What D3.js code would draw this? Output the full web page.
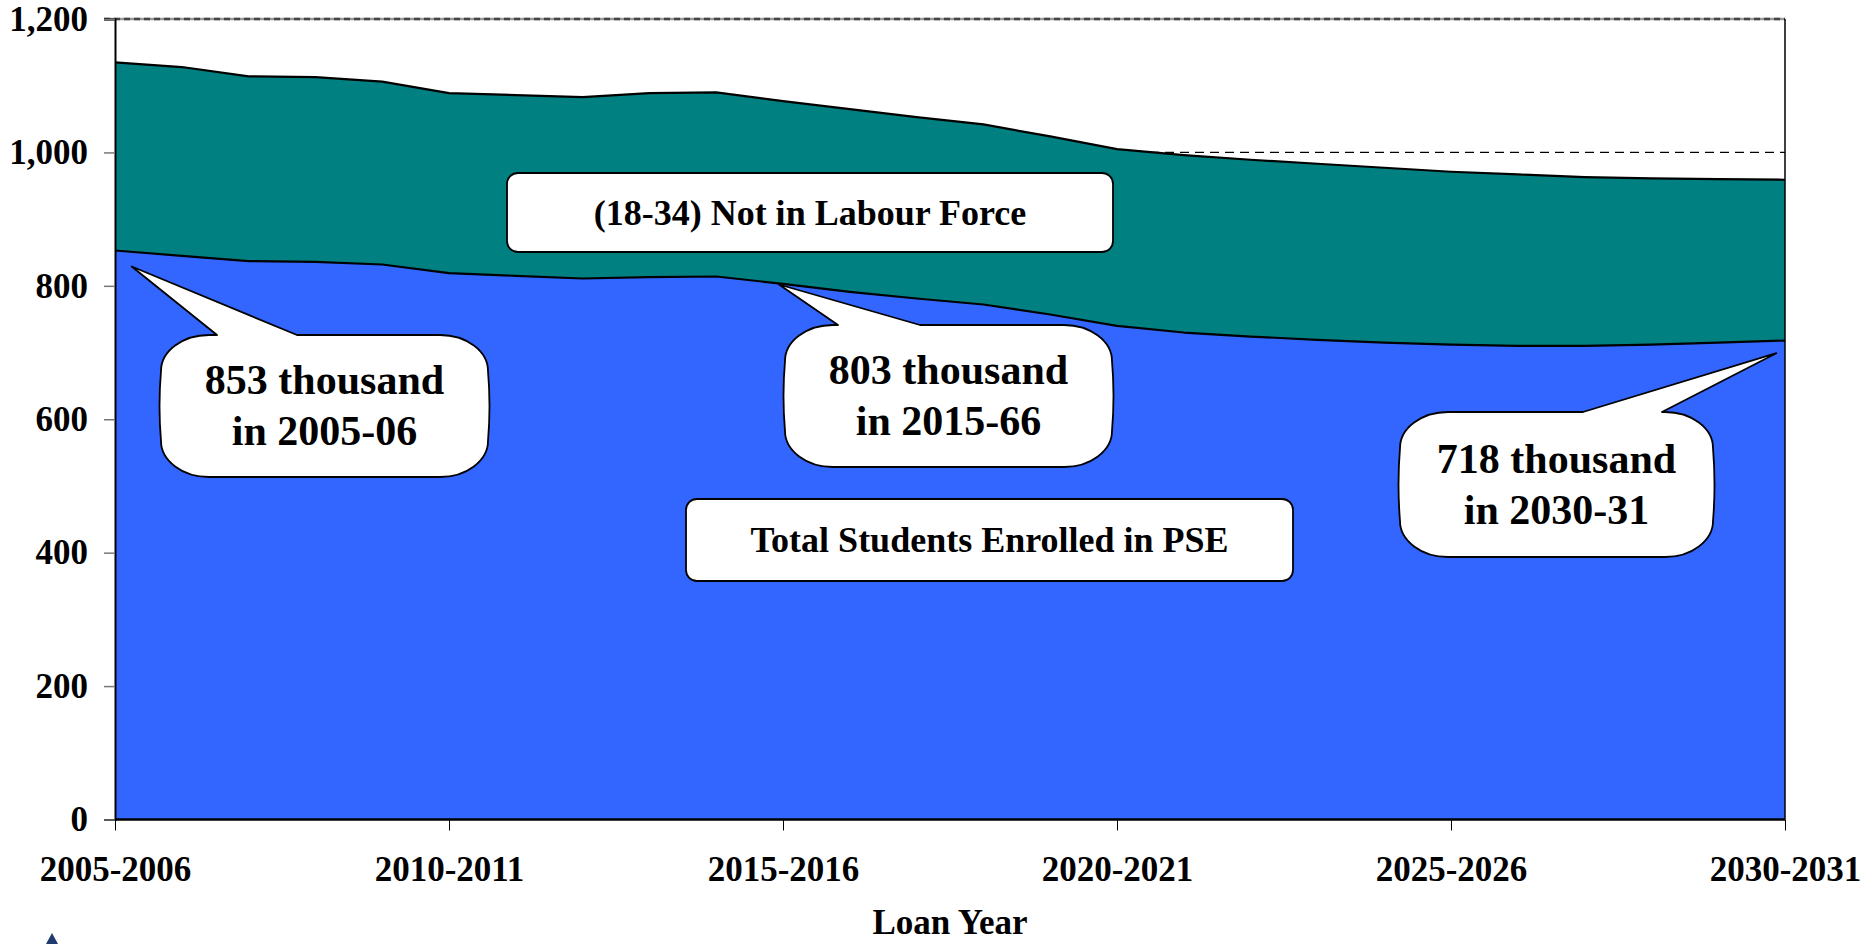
<!DOCTYPE html>
<html><head><meta charset="utf-8">
<script src="https://cdn.jsdelivr.net/npm/d3@7"></script>
<style>
body{margin:0;background:#fff}
svg{display:block}
text{font-family:"Liberation Serif","Times New Roman",serif;font-weight:bold;fill:#000}
</style>
</head><body>
<svg id="c" width="1862" height="944"></svg>
<script>
// ---- data ----
const loanYears = ["2005-2006","2006-2007","2007-2008","2008-2009","2009-2010","2010-2011","2011-2012","2012-2013","2013-2014","2014-2015","2015-2016","2016-2017","2017-2018","2018-2019","2019-2020","2020-2021","2021-2022","2022-2023","2023-2024","2024-2025","2025-2026","2026-2027","2027-2028","2028-2029","2029-2030","2030-2031"];
const tickYears = ["2005-2006","2010-2011","2015-2016","2020-2021","2025-2026","2030-2031"];
const pseStudents = [853,845,837,836,832,819,815,811,813,814,803,791,781,772,757,740,730,724,719,715,712,710,710,712,715,718];
const notInLabourForce = [282,283,277,277,274,270,271,272,276,276,274,274,272,270,267,265,266,265,264,262,259,257,253,249,245,241];
const yTicks = [0,200,400,600,800,1000,1200];
const seriesKeys = ["pse","nilf"];
const seriesColors = {pse:"#3366FF", nilf:"#008080"};
const seriesLabels = ["(18-34) Not in Labour Force","Total Students Enrolled in PSE"];
const calloutLines = [["853 thousand","in 2005-06"],["803 thousand","in 2015-66"],["718 thousand","in 2030-31"]];
const axisTitle = "Loan Year";

// ---- layout ----
const svg = d3.select("#c");
const L = 115, R = 1785, T = 19, B = 819.5;
const x = d3.scalePoint().domain(loanYears).range([L, R]);
const y = d3.scaleLinear().domain([0, 1200]).range([B, T]);

const rows = loanYears.map((yr, i) => ({year: yr, pse: pseStudents[i], nilf: notInLabourForce[i]}));
const stacked = d3.stack().keys(seriesKeys)(rows);

// gridlines (behind)
const grid = svg.append("g");
grid.selectAll("line").data(yTicks.filter(v => v > 0 && v < 1200)).join("line")
  .attr("x1", L).attr("x2", R).attr("y1", d => y(d)).attr("y2", d => y(d))
  .attr("stroke", "#000").attr("stroke-width", 1.2).attr("stroke-dasharray", "9,6");

// top border (1200) gray dashed
svg.append("line").attr("x1", L - 11).attr("x2", R).attr("y1", y(1200)).attr("y2", y(1200))
  .attr("stroke", "#999").attr("stroke-width", 2.5);
svg.append("line").attr("x1", L - 11).attr("x2", R).attr("y1", y(1200)).attr("y2", y(1200))
  .attr("stroke", "#444").attr("stroke-width", 2.5).attr("stroke-dasharray", "6,4");

// areas
const area = d3.area().x(d => x(d.data.year)).y0(d => y(d[0])).y1(d => y(d[1]));
svg.append("g").selectAll("path").data(stacked).join("path")
  .attr("d", area).attr("fill", d => seriesColors[d.key]);
const topLine = d3.line().x(d => x(d.data.year)).y(d => y(d[1]));
svg.append("g").selectAll("path").data(stacked).join("path")
  .attr("d", topLine).attr("fill", "none").attr("stroke", "#000").attr("stroke-width", 2.2)
  .attr("stroke-linejoin", "round");

// right border
svg.append("line").attr("x1", R).attr("x2", R).attr("y1", y(1200)).attr("y2", B)
  .attr("stroke", "#000").attr("stroke-width", 1.5);

// y axis
const yAxis = d3.axisLeft(y).tickValues(yTicks).tickSize(11).tickPadding(16).tickFormat(d3.format(","));
const gy = svg.append("g").attr("transform", `translate(${L},0)`).call(yAxis);
gy.select(".domain").attr("stroke", "#000").attr("stroke-width", 2);
gy.selectAll(".tick line").attr("stroke", "#777").attr("stroke-width", 1.5);
gy.selectAll(".tick text").attr("font-size", 35).attr("fill", "#000");

// x axis
const xAxis = d3.axisBottom(x).tickValues(tickYears).tickSize(11).tickPadding(26);
const gx = svg.append("g").attr("transform", `translate(0,${B})`).call(xAxis);
gx.select(".domain").attr("stroke", "#000").attr("stroke-width", 2.5).attr("d", `M${L},0H${R}`);
gx.selectAll(".tick line").attr("stroke", "#000").attr("stroke-width", 1);
gx.selectAll(".tick text").attr("font-size", 35).attr("fill", "#000");

svg.append("text").attr("x", 950).attr("y", 934).attr("text-anchor", "middle")
  .attr("font-size", 35).text(axisTitle);

// series label boxes
const labelBoxes = [
  {x0: 507, y0: 173, x1: 1113, y1: 252},
  {x0: 686, y0: 499, x1: 1293, y1: 581}
];
labelBoxes.forEach((b, i) => {
  svg.append("rect").attr("x", b.x0).attr("y", b.y0).attr("width", b.x1 - b.x0).attr("height", b.y1 - b.y0)
    .attr("rx", 11).attr("fill", "#fff").attr("stroke", "#000").attr("stroke-width", 1.8);
  svg.append("text").attr("x", (b.x0 + b.x1) / 2).attr("y", (b.y0 + b.y1) / 2 + 12)
    .attr("text-anchor", "middle").attr("font-size", 36).text(seriesLabels[i]);
});

// callouts: tip anchored in data space (year index, value)
const callouts = [
  {tipI: 0.25, tipV: 829, x0: 161, y0: 335, x1: 488, y1: 477, w1: 217, w2: 297},
  {tipI: 9.94, tipV: 802, x0: 785, y0: 325, x1: 1112, y1: 467, w1: 838, w2: 920},
  {tipI: 24.87, tipV: 699, x0: 1400, y0: 412, x1: 1713, y1: 557, w1: 1583, w2: 1662}
];
const step = x.step();
function bubblePath(c) {
  const tx = L + c.tipI * step, ty = y(c.tipV);
  const rx = 48, ry = 36, k = 0.55;
  const {x0, y0, x1, y1, w1, w2} = c;
  return [
    `M${x0 + rx},${y0}`,
    `L${w1},${y0}`, `L${tx},${ty}`, `L${w2},${y0}`,
    `L${x1 - rx},${y0}`,
    `C${x1 - rx + rx * k},${y0} ${x1},${y0 + ry - ry * k} ${x1},${y0 + ry}`,
    `Q${x1 + 3},${(y0 + y1) / 2} ${x1},${y1 - ry}`,
    `C${x1},${y1 - ry + ry * k} ${x1 - rx + rx * k},${y1} ${x1 - rx},${y1}`,
    `L${x0 + rx},${y1}`,
    `C${x0 + rx - rx * k},${y1} ${x0},${y1 - ry + ry * k} ${x0},${y1 - ry}`,
    `Q${x0 - 3},${(y0 + y1) / 2} ${x0},${y0 + ry}`,
    `C${x0},${y0 + ry - ry * k} ${x0 + rx - rx * k},${y0} ${x0 + rx},${y0}`,
    "Z"
  ].join(" ");
}
callouts.forEach((c, i) => {
  svg.append("path").attr("d", bubblePath(c)).attr("fill", "#fff").attr("stroke", "#000").attr("stroke-width", 1.8)
    .attr("stroke-linejoin", "round");
  const cx = (c.x0 + c.x1) / 2, cy = (c.y0 + c.y1) / 2;
  svg.append("text").attr("x", cx).attr("y", cy - 12).attr("text-anchor", "middle").attr("font-size", 42).text(calloutLines[i][0]);
  svg.append("text").attr("x", cx).attr("y", cy + 39).attr("text-anchor", "middle").attr("font-size", 42).text(calloutLines[i][1]);
});

// partial logo at bottom-left edge
svg.append("path").attr("d", "M52,933 L58,944 L46,944 Z").attr("fill", "#1f3a6e");
</script>
</body></html>
